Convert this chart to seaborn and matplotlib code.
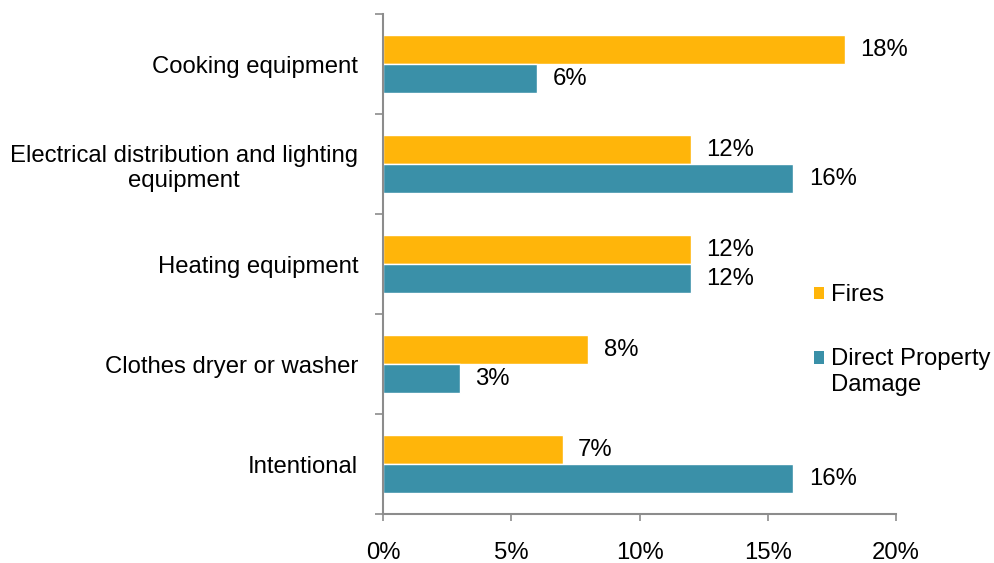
import pandas as pd
import matplotlib.pyplot as plt
import seaborn as sns
import numpy as np
from matplotlib.patches import Patch, Rectangle
from matplotlib.legend_handler import HandlerPatch
from matplotlib.ticker import FuncFormatter

categories = ["Cooking equipment",
              "Electrical distribution and lighting\nequipment",
              "Heating equipment",
              "Clothes dryer or washer",
              "Intentional"]
series = ["Fires", "Direct Property\nDamage"]
fires = [18, 12, 12, 8, 7]
damage = [6, 16, 12, 3, 16]
x_ticks = [0, 5, 10, 15, 20]

colors = ["#FFB50A", "#3A90A8"]
spine_color = "#8C8C8C"
FS = 17.2


def first_line_patch(legend, orig_handle, xdescent, ydescent, width, height, fontsize):
    # put the square next to the first line of a two-line label
    return Rectangle((-xdescent, -ydescent + 0.6 * fontsize), width, height)


def plot_causes():
    df = pd.DataFrame({
        "cause": categories * 2,
        "series": [series[0]] * len(categories) + [series[1]] * len(categories),
        "pct": fires + damage,
    })

    sns.set_style("white")
    plt.rcParams["font.family"] = ["Liberation Sans", "DejaVu Sans"]

    fig = plt.figure(figsize=(9.95, 5.63), dpi=100)
    ax = fig.add_axes([0.385, 0.087, 0.5156, 0.888])

    sns.barplot(data=df, y="cause", x="pct", hue="series", orient="h",
                palette=colors, width=0.58, gap=0, saturation=1,
                errorbar=None, legend=False, ax=ax)

    for cont in ax.containers:
        ax.bar_label(cont, labels=[f"{v:.0f}%" for v in cont.datavalues],
                     padding=11, fontsize=FS, color="black")

    ax.set_xlim(0, 20)
    ax.set_ylim(len(categories) - 0.5, -0.5)
    ax.set_xticks(x_ticks)
    ax.xaxis.set_major_formatter(FuncFormatter(lambda v, p: f"{v:.0f}%"))
    ax.set_xlabel("")
    ax.set_ylabel("")

    # tick marks between categories, like the original
    ax.set_yticks(np.arange(-0.5, len(categories), 1.0), minor=True)
    ax.tick_params(axis="y", which="major", length=0, pad=18, labelsize=FS,
                   labelcolor="black")
    ax.tick_params(axis="y", which="minor", length=6, width=1.2,
                   color=spine_color, direction="out", left=True)
    ax.tick_params(axis="x", which="major", length=5, width=1.2,
                   color=spine_color, direction="out", bottom=True,
                   pad=15.5, labelsize=FS, labelcolor="black")
    for lab in ax.get_yticklabels():
        lab.set_horizontalalignment("right")
        lab.set_multialignment("center")

    for s in ["top", "right"]:
        ax.spines[s].set_visible(False)
    for s in ["left", "bottom"]:
        ax.spines[s].set_color(spine_color)
        ax.spines[s].set_linewidth(1.5)

    handles = [Patch(facecolor=c, edgecolor="none") for c in colors]
    fig.legend(handles, series, loc="upper left",
               bbox_to_anchor=(0.796, 0.533), frameon=False,
               fontsize=FS, handlelength=0.42, handleheight=0.42,
               handletextpad=0.3, labelspacing=1.75, labelcolor="black",
               handler_map={handles[1]: HandlerPatch(patch_func=first_line_patch)})

    fig.savefig("out.png", dpi=100)


if __name__ == '__main__':
    plot_causes()
